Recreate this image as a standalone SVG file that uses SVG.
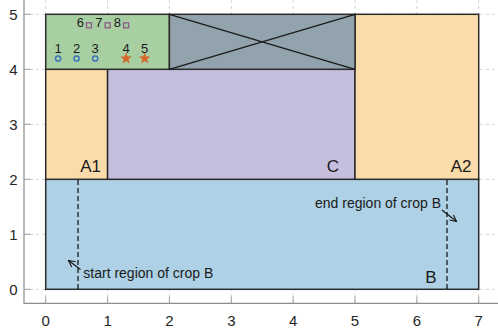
<svg xmlns="http://www.w3.org/2000/svg" width="498" height="333" viewBox="0 0 498 333">
<style>
.grid{stroke:#d4d4d4;stroke-width:1;stroke-dasharray:3,3;fill:none}
.axis{stroke:#8c8c8c;stroke-width:1.2;fill:none}
.tick{stroke:#a0a0a0;stroke-width:1}
.tl{font-family:"Liberation Sans",Arial,sans-serif;font-size:15px;fill:#262626;text-anchor:middle}
.box{stroke:#2b2b2b;stroke-width:1.5}
.lab{font-family:"Liberation Sans",Arial,sans-serif;font-size:17px;fill:#1a1a1a;text-anchor:end}
.num{font-family:"Liberation Sans",Arial,sans-serif;font-size:13px;fill:#1a1a1a;text-anchor:middle}
.ann{font-family:"Liberation Sans",Arial,sans-serif;font-size:14px;fill:#1a1a1a}
.dash{stroke:#1a1a1a;stroke-width:1.3;stroke-dasharray:5,3;fill:none}
.arr{stroke:#1a1a1a;stroke-width:1.2;fill:none}
.circ{fill:none;stroke:#3c74bd;stroke-width:1.5}
.star{fill:#d8652a;stroke:#d8652a;stroke-width:0.5}
.sq{fill:none;stroke:#8e5a8c;stroke-width:1.3}
</style>
<defs>
<marker id="ah" viewBox="0 0 10 10" refX="9" refY="5" markerWidth="8" markerHeight="8" orient="auto-start-reverse" markerUnits="userSpaceOnUse">
<path d="M1,1 L9,5 L1,9" fill="none" stroke="#1a1a1a" stroke-width="1.4"/>
</marker>
<path id="st" d="M0,-5.5 L1.3,-1.8 L5.2,-1.7 L2.1,0.7 L3.2,4.5 L0,2.2 L-3.2,4.5 L-2.1,0.7 L-5.2,-1.7 L-1.3,-1.8 Z"/>
</defs>
<rect width="498" height="333" fill="#ffffff"/>
<g id="grid">
<path class="grid" d="M45.7,0V303 M107.6,0V303 M169.4,0V303 M231.3,0V303 M293.1,0V303 M355,0V303 M416.9,0V303 M478.7,0V303"/>
<path class="grid" d="M24,289.3H498 M24,234.3H498 M24,179.3H498 M24,124.3H498 M24,69.3H498 M24,14.3H498"/>
</g>
<g id="axes">
<path class="axis" d="M24,0V303.3H498"/>
<path class="tick" d="M45.7,303V296.5 M107.6,303V296.5 M169.4,303V296.5 M231.3,303V296.5 M293.1,303V296.5 M355,303V296.5 M416.9,303V296.5 M478.7,303V296.5"/>
<path class="tick" d="M24,289.3H30.5 M24,234.3H30.5 M24,179.3H30.5 M24,124.3H30.5 M24,69.3H30.5 M24,14.3H30.5"/>
<text class="tl" x="45.7" y="325.5">0</text>
<text class="tl" x="107.6" y="325.5">1</text>
<text class="tl" x="169.4" y="325.5">2</text>
<text class="tl" x="231.3" y="325.5">3</text>
<text class="tl" x="293.1" y="325.5">4</text>
<text class="tl" x="355" y="325.5">5</text>
<text class="tl" x="416.9" y="325.5">6</text>
<text class="tl" x="478.7" y="325.5">7</text>
<text class="tl" x="13.5" y="294.7">0</text>
<text class="tl" x="13.5" y="239.7">1</text>
<text class="tl" x="13.5" y="184.7">2</text>
<text class="tl" x="13.5" y="129.7">3</text>
<text class="tl" x="13.5" y="74.7">4</text>
<text class="tl" x="13.5" y="19.7">5</text>
</g>
<g id="B">
<rect class="box" x="45.7" y="179.3" width="433" height="110" fill="#aed1e5"/>
<text class="lab" x="436.5" y="283">B</text>
</g>
<g id="A1">
<rect class="box" x="45.7" y="69.3" width="61.9" height="110" fill="#fadcab"/>
<text class="lab" x="101" y="172">A1</text>
</g>
<g id="C">
<rect class="box" x="107.6" y="69.3" width="247.4" height="110" fill="#c5bfdd"/>
<text class="lab" x="339" y="172">C</text>
</g>
<g id="A2">
<rect class="box" x="355" y="14.3" width="123.7" height="165" fill="#fadcab"/>
<text class="lab" x="471.5" y="172">A2</text>
</g>
<g id="G">
<rect class="box" x="45.7" y="14.3" width="123.7" height="55" fill="#a8cfa2"/>
</g>
<g id="X">
<rect class="box" x="169.4" y="14.3" width="185.6" height="55" fill="#93a3ae"/>
<path d="M169.4,14.3L355,69.3M169.4,69.3L355,14.3" stroke="#1a1a1a" stroke-width="1.3"/>
</g>
<g id="markers">
<circle class="circ" cx="58.1" cy="58.5" r="2.6"/>
<circle class="circ" cx="76.6" cy="58.5" r="2.6"/>
<circle class="circ" cx="95.2" cy="58.5" r="2.6"/>
<use href="#st" class="star" x="126.1" y="58.5"/>
<use href="#st" class="star" x="144.7" y="58.5"/>
<rect class="sq" x="86.5" y="22.8" width="5" height="5"/>
<rect class="sq" x="105.1" y="22.8" width="5" height="5"/>
<rect class="sq" x="123.6" y="22.8" width="5" height="5"/>
<text class="num" x="58.1" y="52.7">1</text>
<text class="num" x="76.6" y="52.7">2</text>
<text class="num" x="95.2" y="52.7">3</text>
<text class="num" x="126.1" y="52.7">4</text>
<text class="num" x="144.7" y="52.7">5</text>
<text class="num" x="80.3" y="26.7">6</text>
<text class="num" x="98.9" y="26.7">7</text>
<text class="num" x="117.4" y="26.7">8</text>
</g>
<g id="connectors">
<path class="dash" d="M78,180V289"/>
<path class="dash" d="M447,180V289"/>
<path class="arr" d="M80.5,269.5L68.5,260.5" marker-end="url(#ah)"/>
<path class="arr" d="M442,210L456.5,221.5" marker-end="url(#ah)"/>
<text class="ann" x="83.3" y="277.5">start region of crop B</text>
<text class="ann" x="315" y="208.3">end region of crop B</text>
</g>
</svg>
